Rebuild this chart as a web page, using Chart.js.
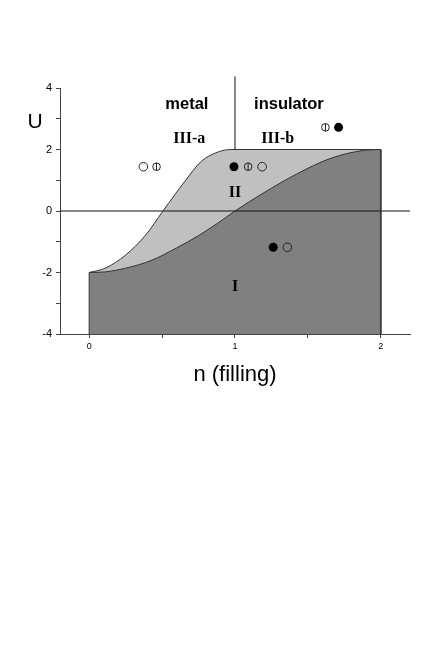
<!DOCTYPE html>
<html>
<head>
<meta charset="utf-8">
<script src="https://cdn.jsdelivr.net/npm/chart.js@4.4.0/dist/chart.umd.min.js"></script>
<style>
  html, body { margin: 0; padding: 0; background: #fff; }
  canvas { display: block; }
</style>
</head>
<body>
<canvas id="phase" width="436" height="654"></canvas>
<script>
// phase boundaries: n = filling, U
const upperN = [0, 0.11, 0.248, 0.386, 0.506, 0.655, 0.77, 0.885, 0.97, 1.0, 2.0];
const upperU = [-2, -1.86, -1.44, -0.79, 0, 0.96, 1.62, 1.92, 2.0, 2.0, 2.0];
const lowerN = [0, 0.11, 0.25, 0.43, 0.6, 0.75, 0.88, 1.0, 1.2, 1.43, 1.66, 1.88, 2.0];
const lowerU = [-2, -1.98, -1.86, -1.6, -1.2, -0.8, -0.4, 0, 0.6, 1.22, 1.72, 1.97, 2.0];

// symbols: open, barred and filled circles
const openN = [0.372, 1.186, 1.359];
const openU = [1.44, 1.44, -1.18];
const barN = [0.462, 1.09, 1.62];
const barU = [1.44, 1.44, 2.72];
const fullN = [0.993, 1.71, 1.262];
const fullU = [1.44, 2.72, -1.18];

const xTicks = [0, 0.5, 1, 1.5, 2];
const xLabels = ["0", "", "1", "", "2"];
const yTicks = [-4, -3, -2, -1, 0, 1, 2, 3, 4];
const yLabels = ["-4", "", "-2", "", "0", "", "2", "", "4"];

// region names and where they sit (data coords)
const regionText = ["metal", "insulator", "III-a", "III-b", "II", "I"];
const regionN = [0.67, 1.37, 0.686, 1.293, 1.0, 1.0];
const regionU = [3.48, 3.48, 2.33, 2.33, 0.59, -2.46];
const regionBold = ["bold 16.5px 'Liberation Sans', Arial, sans-serif",
                    "bold 16.5px 'Liberation Sans', Arial, sans-serif",
                    "bold 16px 'Liberation Serif', 'Times New Roman', serif",
                    "bold 16px 'Liberation Serif', 'Times New Roman', serif",
                    "bold 16px 'Liberation Serif', 'Times New Roman', serif",
                    "bold 16px 'Liberation Serif', 'Times New Roman', serif"];

function pts(ns, us) {
  return ns.map((n, i) => ({ x: n, y: us[i] }));
}

const edge = "#333";

const labelPlugin = {
  id: "regionLabels",
  afterDatasetsDraw(chart) {
    const ctx = chart.ctx;
    const xs = chart.scales.x, ys = chart.scales.y;
    ctx.save();
    ctx.fillStyle = "#000";
    ctx.textAlign = "center";
    ctx.textBaseline = "middle";
    regionText.forEach((t, i) => {
      ctx.font = regionBold[i];
      ctx.fillText(t, xs.getPixelForValue(regionN[i]), ys.getPixelForValue(regionU[i]));
    });
    // y axis name, upright beside the axis
    ctx.font = "21px 'Liberation Sans', Arial, sans-serif";
    ctx.fillText("U", chart.chartArea.left - 25, ys.getPixelForValue(2.9));
    ctx.restore();
  }
};

new Chart(document.getElementById("phase"), {
  type: "line",
  data: {
    datasets: [
      {
        // region II
        data: pts(upperN, upperU),
        fill: { value: -4 },
        backgroundColor: "#c0c0c0",
        borderColor: edge,
        borderWidth: 1,
        cubicInterpolationMode: "monotone",
        pointRadius: 0,
        order: 3
      },
      {
        // region I
        data: pts(lowerN, lowerU),
        fill: { value: -4 },
        backgroundColor: "#808080",
        borderColor: edge,
        borderWidth: 1,
        cubicInterpolationMode: "monotone",
        pointRadius: 0,
        order: 2
      },
      { data: pts([0, 0], [-4, -2]), borderColor: edge, borderWidth: 1, pointRadius: 0, fill: false, order: 1 },
      { data: pts([2, 2], [2, -4]), borderColor: edge, borderWidth: 1, pointRadius: 0, fill: false, order: 1 },
      { data: pts([-0.2, 2.2], [0, 0]), borderColor: "#111", borderWidth: 1, pointRadius: 0, fill: false, order: 1 },
      // metal / insulator divider
      { data: pts([1, 1], [2, 4.38]), borderColor: "#111", borderWidth: 1, pointRadius: 0, fill: false, clip: false, order: 1 },
      {
        data: pts(openN, openU), showLine: false,
        pointStyle: "circle", pointRadius: 4.3, pointBorderWidth: 1,
        pointBackgroundColor: "rgba(0,0,0,0)", pointBorderColor: "#222", order: 0
      },
      {
        data: pts(barN, barU), showLine: false,
        pointStyle: "circle", pointRadius: 3.8, pointBorderWidth: 1,
        pointBackgroundColor: "rgba(0,0,0,0)", pointBorderColor: "#222", order: 0
      },
      {
        data: pts(barN, barU), showLine: false,
        pointStyle: "line", rotation: 90, pointRadius: 3.8, pointBorderWidth: 1,
        pointBorderColor: "#222", order: 0
      },
      {
        data: pts(fullN, fullU), showLine: false,
        pointStyle: "circle", pointRadius: 4.5, pointBorderWidth: 0,
        pointBackgroundColor: "#000", pointBorderColor: "#000", order: 0
      }
    ]
  },
  options: {
    responsive: false,
    animation: false,
    events: [],
    layout: { padding: { left: 0, top: 88, right: 26, bottom: 262 } },
    plugins: { legend: { display: false }, tooltip: { enabled: false } },
    scales: {
      x: {
        type: "linear",
        min: -0.2,
        max: 2.2,
        afterBuildTicks: s => { s.ticks = xTicks.map(v => ({ value: v })); },
        afterFit: s => { s.height = 58; },
        grid: { drawOnChartArea: false, drawTicks: true, tickLength: 4, color: "#444" },
        border: { color: "#444", width: 1 },
        ticks: {
          padding: 3,
          color: "#000",
          font: { family: "'Liberation Sans', Arial, sans-serif", size: 9 },
          callback: (v, i) => xLabels[i]
        },
        title: {
          display: true,
          text: "n (filling)",
          color: "#000",
          padding: { top: 0, bottom: 4 },
          font: { family: "'Liberation Sans', Arial, sans-serif", size: 22 }
        }
      },
      y: {
        min: -4,
        max: 4,
        afterBuildTicks: s => { s.ticks = yTicks.map(v => ({ value: v })); },
        afterFit: s => { s.width = 60; },
        grid: { drawOnChartArea: false, drawTicks: true, tickLength: 4, color: "#444" },
        border: { color: "#444", width: 1 },
        ticks: {
          padding: 4,
          color: "#000",
          font: { family: "'Liberation Sans', Arial, sans-serif", size: 11 },
          callback: (v, i) => yLabels[i]
        }
      }
    }
  },
  plugins: [labelPlugin]
});
</script>
</body>
</html>
